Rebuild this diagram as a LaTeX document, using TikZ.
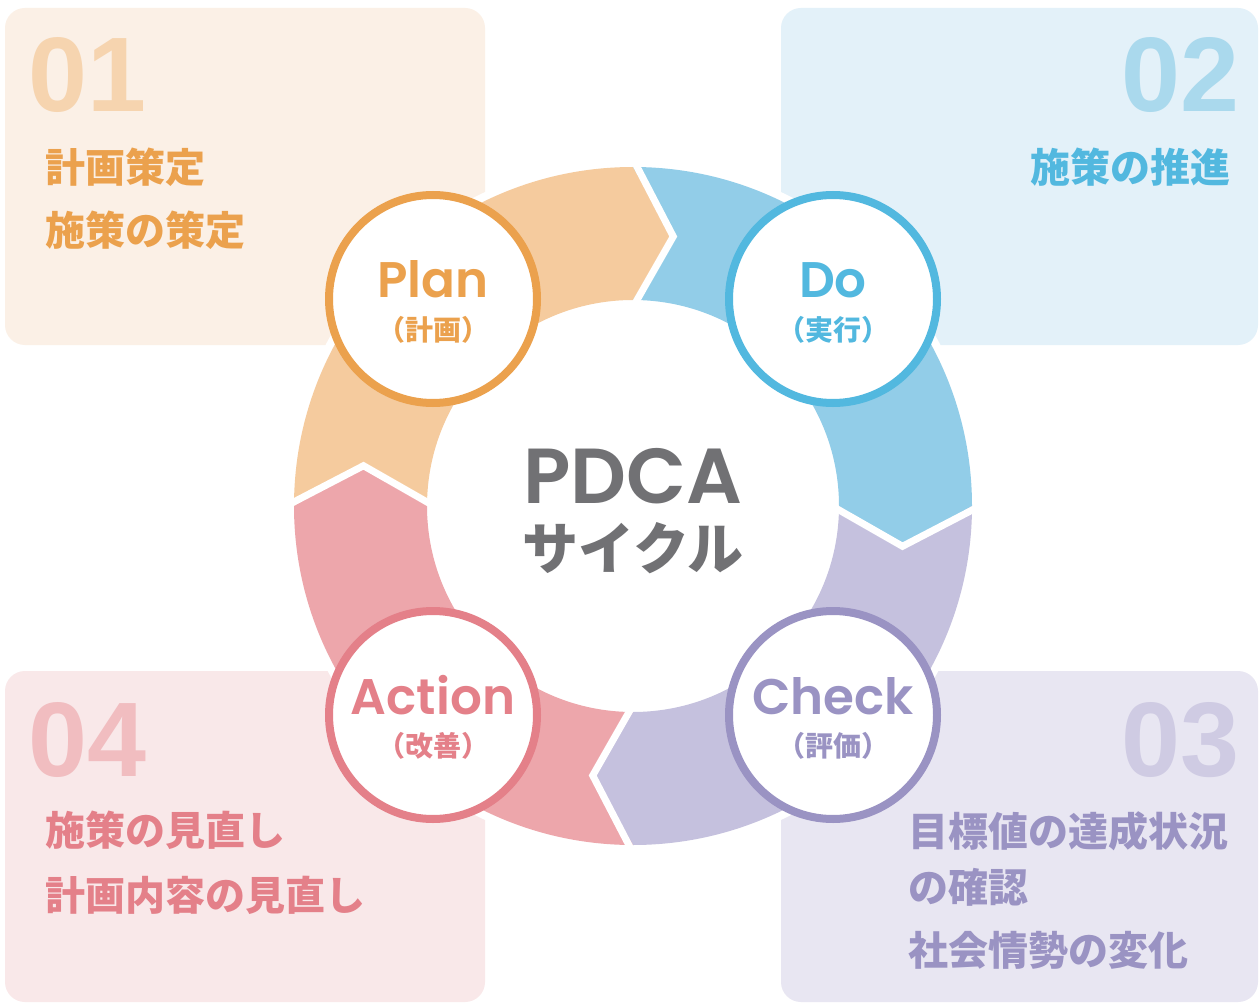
\documentclass[tikz,border=0pt]{standalone}
\usepackage{fontspec}
\setmainfont{Poppins}[BoldFont={Poppins SemiBold}]
\newfontfamily\cjk{Noto Sans CJK JP}
\newfontfamily\numf{Liberation Sans}
\usetikzlibrary{calc}
\definecolor{oMain}{HTML}{EBA14D}
\definecolor{oRing}{HTML}{F5CB9E}
\definecolor{oBox}{HTML}{FBF0E6}
\definecolor{oNum}{HTML}{F6D4AF}
\definecolor{bMain}{HTML}{52B8DF}
\definecolor{bRing}{HTML}{92CDE8}
\definecolor{bBox}{HTML}{E3F1F9}
\definecolor{bNum}{HTML}{AAD9ED}
\definecolor{pMain}{HTML}{9A93C3}
\definecolor{pRing}{HTML}{C5C1DE}
\definecolor{pBox}{HTML}{E8E6F2}
\definecolor{pNum}{HTML}{CFCBE3}
\definecolor{rMain}{HTML}{E48089}
\definecolor{rRing}{HTML}{EDA6AB}
\definecolor{rBox}{HTML}{F9E8E9}
\definecolor{rNum}{HTML}{F1BDC0}
\definecolor{gText}{HTML}{717174}
\newcommand\ringseg[2]{%
  \fill[#2] ($(C)+(#1:339)$) arc[start angle=#1, end angle={#1+90}, radius=339]
    -- ($(C)+({#1+98.5}:272.5)$) -- ($(C)+({#1+90}:206)$)
    arc[start angle={#1+90}, end angle=#1, radius=206]
    -- ($(C)+({#1+8.5}:272.5)$) -- cycle;}
\newcommand\ringsep[1]{%
  \draw[white, line width=7pt, line join=miter] ($(C)+(#1:347)$) -- ($(C)+({#1+8.5}:272.5)$) -- ($(C)+(#1:199)$);}
\begin{document}
\begin{tikzpicture}[x=1pt,y=-1pt,
  numlbl/.style={font=\numf\bfseries\fontsize{106}{106}\selectfont, inner sep=0},
  boxtxt/.style={font=\cjk\bfseries\fontsize{40}{40}\selectfont, inner sep=0},
  stagecircle/.style={circle, line width=8pt, fill=white, minimum size=208pt, inner sep=0},
  mainlbl/.style={font=\bfseries\fontsize{50}{50}\selectfont, inner sep=0, anchor=base},
  sublbl/.style={font=\cjk\bfseries\fontsize{28}{28}\selectfont, inner sep=0, anchor=base},
  boxfill/.style={rounded corners=20pt}]
\fill[white] (0,0) rectangle (1259,1003);
\useasboundingbox (0,0) rectangle (1259,1003);
\coordinate (C) at (633,506);
% boxes
\fill[oBox, boxfill] (5,8) rectangle (485,345);
\fill[bBox, boxfill] (781,8) rectangle (1258,345);
\fill[pBox, boxfill] (781,671) rectangle (1258,1002);
\fill[rBox, boxfill] (5,671) rectangle (485,1002);
% numbers
\node[numlbl, text=oNum, anchor=base west] (n1) at (28,112) {01};
\node[numlbl, text=bNum, anchor=base east] (n2) at (1240,112) {02};
\node[numlbl, text=pNum, anchor=base east] (n3) at (1240,776) {03};
\node[numlbl, text=rNum, anchor=base west] (n4) at (28,776) {04};
% box texts
\node[boxtxt, text=oMain, anchor=base west] (t1a) at (45,183) {計画策定};
\node[boxtxt, text=oMain, anchor=base west] (t1b) at (45,246) {施策の策定};
\node[boxtxt, text=bMain, anchor=base east] (t2a) at (1231,183) {施策の推進};
\node[boxtxt, text=pMain, anchor=base west] (t3a) at (908,846) {目標値の達成状況};
\node[boxtxt, text=pMain, anchor=base west] (t3b) at (908,902) {の確認};
\node[boxtxt, text=pMain, anchor=base west] (t3c) at (908,965) {社会情勢の変化};
\node[boxtxt, text=rMain, anchor=base west] (t4a) at (45,845) {施策の見直し};
\node[boxtxt, text=rMain, anchor=base west] (t4b) at (45,910) {計画内容の見直し};
% ring
\fill[white] (C) circle[radius=347];
\ringseg{180}{oRing}
\ringseg{270}{bRing}
\ringseg{0}{pRing}
\ringseg{90}{rRing}
\ringsep{0}
\ringsep{90}
\ringsep{180}
\ringsep{270}
% circles
\node[stagecircle, draw=oMain] (plan) at (433,299) {};
\node[stagecircle, draw=bMain] (do) at (833,299) {};
\node[stagecircle, draw=pMain] (check) at (833,715) {};
\node[stagecircle, draw=rMain] (act) at (433,715) {};
\node[mainlbl, text=oMain] (planl) at ($(plan)+(0,-1)$) {Plan};
\node[sublbl, text=oMain] (plans) at ($(plan)+(0,41)$) {（計画）};
\node[mainlbl, text=bMain] (dol) at ($(do)+(0,-1)$) {Do};
\node[sublbl, text=bMain] (dos) at ($(do)+(0,41)$) {（実行）};
\node[mainlbl, text=pMain] (checkl) at ($(check)+(0,-1)$) {Check};
\node[sublbl, text=pMain] (checks) at ($(check)+(0,41)$) {（評価）};
\node[mainlbl, text=rMain] (actl) at ($(act)+(0,-1)$) {Action};
\node[sublbl, text=rMain] (acts) at ($(act)+(0,41)$) {（改善）};
% center
\node[font=\bfseries\fontsize{78}{78}\selectfont, text=gText, inner sep=0, anchor=base] (pdca) at (633,503) {PDCA};
\node[font=\cjk\bfseries\fontsize{56}{56}\selectfont, text=gText, inner sep=0, anchor=base, text height=44pt, text depth=4pt] (cyc) at (633,569) {サイクル};
\end{tikzpicture}
\end{document}
